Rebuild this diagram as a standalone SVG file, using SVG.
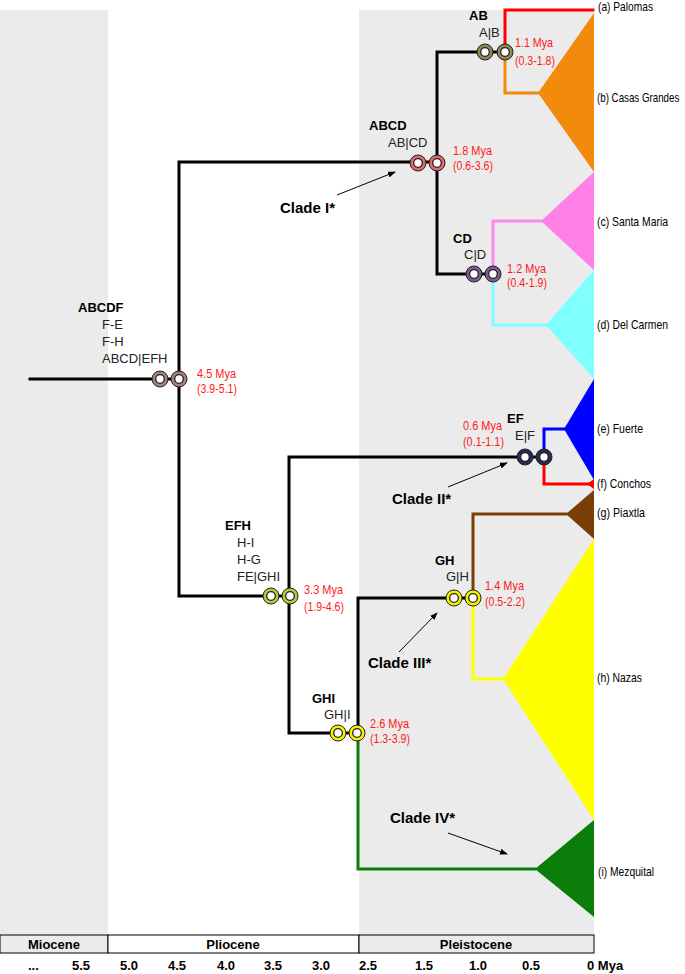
<svg xmlns="http://www.w3.org/2000/svg" width="685" height="974" viewBox="0 0 685 974">
<style>
.t{font-family:"Liberation Sans",Arial,sans-serif;fill:#000}
.nb{font-size:13px;font-weight:bold}
.np{font-size:13px;fill:#222}
.age{font-size:13px;fill:#ff1a1a}
.tax{font-size:13px}
.cl{font-size:15px;font-weight:bold}
.ax{font-size:13px;font-weight:bold}
.br{fill:none;stroke-width:3;stroke-linecap:square}
.blk{stroke:#000}
.arr{stroke:#000;stroke-width:1;marker-end:url(#ah)}
.ring{stroke:#222;stroke-width:1}
.hole{fill:#fff;stroke:#222;stroke-width:1.3}
</style>
<defs>
<marker id="ah" markerWidth="8" markerHeight="6" refX="7" refY="3" orient="auto" markerUnits="userSpaceOnUse">
<path d="M0,0 L8,3 L0,6 Z" fill="#000"/>
</marker>
</defs>
<rect width="685" height="974" fill="#fff"/>
<g id="bands">
<rect x="0" y="10" width="108" height="925" fill="#ebebeb"/>
<rect x="359" y="10" width="235" height="925" fill="#ebebeb"/>
</g>
<g id="triangles">
<polygon points="538,93 594,13 594,172" fill="#f28a0c"/>
<polygon points="541,221 594,172 594,270" fill="#ff80e6"/>
<polygon points="546,325 594,270 594,379" fill="#80ffff"/>
<polygon points="564,429 594,379 594,480" fill="#0000ff"/>
<polygon points="587,484 594,479 594,489" fill="#ff0000"/>
<polygon points="566,514 594,490 594,539" fill="#7a3f08"/>
<polygon points="503,679 594,539 594,820" fill="#ffff00"/>
<polygon points="535,869 594,820 594,917" fill="#0a7d0a"/>
</g>
<g id="connectors">
<path class="br blk" d="M30 379 H179 M179 162 V596 M179 162 H437 M437 52 V274 M437 52 H505 M437 274 H493 M289 457 H544 M289 457 V733 M179 596 H289 M358 598 H473 M358 598 V733 M289 733 H358"/>
<path class="br" stroke="#ff0000" d="M505 52 V10 H593"/>
<path class="br" stroke="#f28a0c" d="M505 52 V93 H538"/>
<path class="br" stroke="#ff88ee" d="M493 274 V221 H541"/>
<path class="br" stroke="#80ffff" d="M493 274 V325 H546"/>
<path class="br" stroke="#0000ff" d="M544 457 V429 H564"/>
<path class="br" stroke="#ff0000" d="M544 457 V484 H589"/>
<path class="br" stroke="#7a3f08" d="M473 598 V514 H566"/>
<path class="br" stroke="#ffff00" d="M473 598 V679 H503"/>
<path class="br" stroke="#0a7d0a" d="M358 733 V869 H535"/>
<line class="arr" x1="337" y1="195" x2="395" y2="172"/>
<line class="arr" x1="448" y1="487" x2="507" y2="463"/>
<line class="arr" x1="399" y1="652" x2="437" y2="613"/>
<line class="arr" x1="448" y1="833" x2="507" y2="854"/>
</g>
<g id="node-ABCDF">
<circle class="ring" cx="160" cy="379" r="8" fill="#a8817a"/><circle class="hole" cx="160" cy="379" r="4.3"/>
<circle class="ring" cx="179" cy="379" r="8" fill="#a8817a"/><circle class="hole" cx="179" cy="379" r="4.3"/>
<text class="t nb" x="78" y="312">ABCDF</text>
<text class="t np" x="102" y="329">F-E</text>
<text class="t np" x="102" y="346">F-H</text>
<text class="t np" x="102" y="363">ABCD|EFH</text>
<text class="t age" x="197" y="378" textLength="39" lengthAdjust="spacingAndGlyphs">4.5 Mya</text>
<text class="t age" x="197" y="393" textLength="40" lengthAdjust="spacingAndGlyphs">(3.9-5.1)</text>
</g>
<g id="node-ABCD">
<circle class="ring" cx="418" cy="163" r="8" fill="#e06a6c"/><circle class="hole" cx="418" cy="163" r="4.3"/>
<circle class="ring" cx="437" cy="163" r="8" fill="#e06a6c"/><circle class="hole" cx="437" cy="163" r="4.3"/>
<text class="t nb" x="369" y="130">ABCD</text>
<text class="t np" x="388" y="147">AB|CD</text>
<text class="t age" x="453" y="155" textLength="39" lengthAdjust="spacingAndGlyphs">1.8 Mya</text>
<text class="t age" x="453" y="170" textLength="40" lengthAdjust="spacingAndGlyphs">(0.6-3.6)</text>
</g>
<g id="node-AB">
<circle class="ring" cx="485" cy="52" r="8" fill="#8f8955"/><circle class="hole" cx="485" cy="52" r="4.3"/>
<circle class="ring" cx="505" cy="52" r="8" fill="#8f8955"/><circle class="hole" cx="505" cy="52" r="4.3"/>
<text class="t nb" x="469" y="20">AB</text>
<text class="t np" x="479" y="37">A|B</text>
<text class="t age" x="515" y="47" textLength="38" lengthAdjust="spacingAndGlyphs">1.1 Mya</text>
<text class="t age" x="515" y="65" textLength="40" lengthAdjust="spacingAndGlyphs">(0.3-1.8)</text>
</g>
<g id="node-CD">
<circle class="ring" cx="474" cy="274" r="8" fill="#7b5a96"/><circle class="hole" cx="474" cy="274" r="4.3"/>
<circle class="ring" cx="493" cy="274" r="8" fill="#7b5a96"/><circle class="hole" cx="493" cy="274" r="4.3"/>
<text class="t nb" x="453" y="243">CD</text>
<text class="t np" x="464" y="259">C|D</text>
<text class="t age" x="507" y="273" textLength="39" lengthAdjust="spacingAndGlyphs">1.2 Mya</text>
<text class="t age" x="507" y="287" textLength="40" lengthAdjust="spacingAndGlyphs">(0.4-1.9)</text>
</g>
<g id="node-EF">
<circle class="ring" cx="525" cy="457" r="8" fill="#2a2c4f"/><circle class="hole" cx="525" cy="457" r="4.3"/>
<circle class="ring" cx="544" cy="457" r="8" fill="#2a2c4f"/><circle class="hole" cx="544" cy="457" r="4.3"/>
<text class="t nb" x="507" y="423">EF</text>
<text class="t np" x="515" y="440">E|F</text>
<text class="t age" x="463" y="430" textLength="39" lengthAdjust="spacingAndGlyphs">0.6 Mya</text>
<text class="t age" x="463" y="446" textLength="41" lengthAdjust="spacingAndGlyphs">(0.1-1.1)</text>
</g>
<g id="node-EFH">
<circle class="ring" cx="271" cy="596" r="8" fill="#b8c838"/><circle class="hole" cx="271" cy="596" r="4.3"/>
<circle class="ring" cx="290" cy="596" r="8" fill="#b8c838"/><circle class="hole" cx="290" cy="596" r="4.3"/>
<text class="t nb" x="225" y="530">EFH</text>
<text class="t np" x="237" y="547">H-I</text>
<text class="t np" x="237" y="564">H-G</text>
<text class="t np" x="237" y="581">FE|GHI</text>
<text class="t age" x="304" y="594" textLength="39" lengthAdjust="spacingAndGlyphs">3.3 Mya</text>
<text class="t age" x="304" y="611" textLength="40" lengthAdjust="spacingAndGlyphs">(1.9-4.6)</text>
</g>
<g id="node-GH">
<circle class="ring" cx="454" cy="598" r="8" fill="#f5f000"/><circle class="hole" cx="454" cy="598" r="4.3"/>
<circle class="ring" cx="473" cy="598" r="8" fill="#f5f000"/><circle class="hole" cx="473" cy="598" r="4.3"/>
<text class="t nb" x="435" y="565">GH</text>
<text class="t np" x="446" y="581">G|H</text>
<text class="t age" x="485" y="590" textLength="39" lengthAdjust="spacingAndGlyphs">1.4 Mya</text>
<text class="t age" x="485" y="606" textLength="40" lengthAdjust="spacingAndGlyphs">(0.5-2.2)</text>
</g>
<g id="node-GHI">
<circle class="ring" cx="338" cy="733" r="8" fill="#f5f000"/><circle class="hole" cx="338" cy="733" r="4.3"/>
<circle class="ring" cx="357" cy="733" r="8" fill="#f5f000"/><circle class="hole" cx="357" cy="733" r="4.3"/>
<text class="t nb" x="312" y="703">GHI</text>
<text class="t np" x="324" y="719">GH|I</text>
<text class="t age" x="370" y="728" textLength="39" lengthAdjust="spacingAndGlyphs">2.6 Mya</text>
<text class="t age" x="370" y="743" textLength="40" lengthAdjust="spacingAndGlyphs">(1.3-3.9)</text>
</g>
<g id="clade-labels">
<text class="t cl" x="280" y="213">Clade I*</text>
<text class="t cl" x="392" y="504">Clade II*</text>
<text class="t cl" x="368" y="668">Clade III*</text>
<text class="t cl" x="390" y="823">Clade IV*</text>
</g>
<g id="taxa">
<text class="t tax" x="598" y="11" textLength="55" lengthAdjust="spacingAndGlyphs">(a) Palomas</text>
<text class="t tax" transform="translate(597,102) scale(0.75,1)" x="0" y="0">(b) Casas Grandes</text>
<text class="t tax" x="597" y="226" textLength="71" lengthAdjust="spacingAndGlyphs">(c) Santa Maria</text>
<text class="t tax" x="597" y="329" textLength="71" lengthAdjust="spacingAndGlyphs">(d) Del Carmen</text>
<text class="t tax" x="597" y="433" textLength="46" lengthAdjust="spacingAndGlyphs">(e) Fuerte</text>
<text class="t tax" x="597" y="488" textLength="54" lengthAdjust="spacingAndGlyphs">(f) Conchos</text>
<text class="t tax" x="597" y="517" textLength="48" lengthAdjust="spacingAndGlyphs">(g) Piaxtla</text>
<text class="t tax" x="597" y="682" textLength="45" lengthAdjust="spacingAndGlyphs">(h) Nazas</text>
<text class="t tax" x="598" y="876" textLength="56" lengthAdjust="spacingAndGlyphs">(i) Mezquital</text>
</g>
<g id="axis">
<rect x="0" y="935" width="108" height="18" fill="#ebebeb" stroke="#000" stroke-width="1"/>
<rect x="108" y="935" width="251" height="18" fill="#fff" stroke="#000" stroke-width="1"/>
<rect x="359" y="935" width="235" height="18" fill="#ebebeb" stroke="#000" stroke-width="1"/>
<text class="t ax" x="54" y="949" text-anchor="middle">Miocene</text>
<text class="t ax" x="233" y="949" text-anchor="middle">Pliocene</text>
<text class="t ax" x="476" y="949" text-anchor="middle">Pleistocene</text>
<text class="t ax" x="28" y="970">...</text>
<text class="t ax" x="72" y="970">5.5</text>
<text class="t ax" x="120" y="970">5.0</text>
<text class="t ax" x="168" y="970">4.5</text>
<text class="t ax" x="217" y="970">4.0</text>
<text class="t ax" x="264" y="970">3.5</text>
<text class="t ax" x="312" y="970">3.0</text>
<text class="t ax" x="359" y="970">2.5</text>
<text class="t ax" x="415" y="970">1.5</text>
<text class="t ax" x="469" y="970">1.0</text>
<text class="t ax" x="522" y="970">0.5</text>
<text class="t ax" x="587" y="970">0 Mya</text>
</g>
</svg>
